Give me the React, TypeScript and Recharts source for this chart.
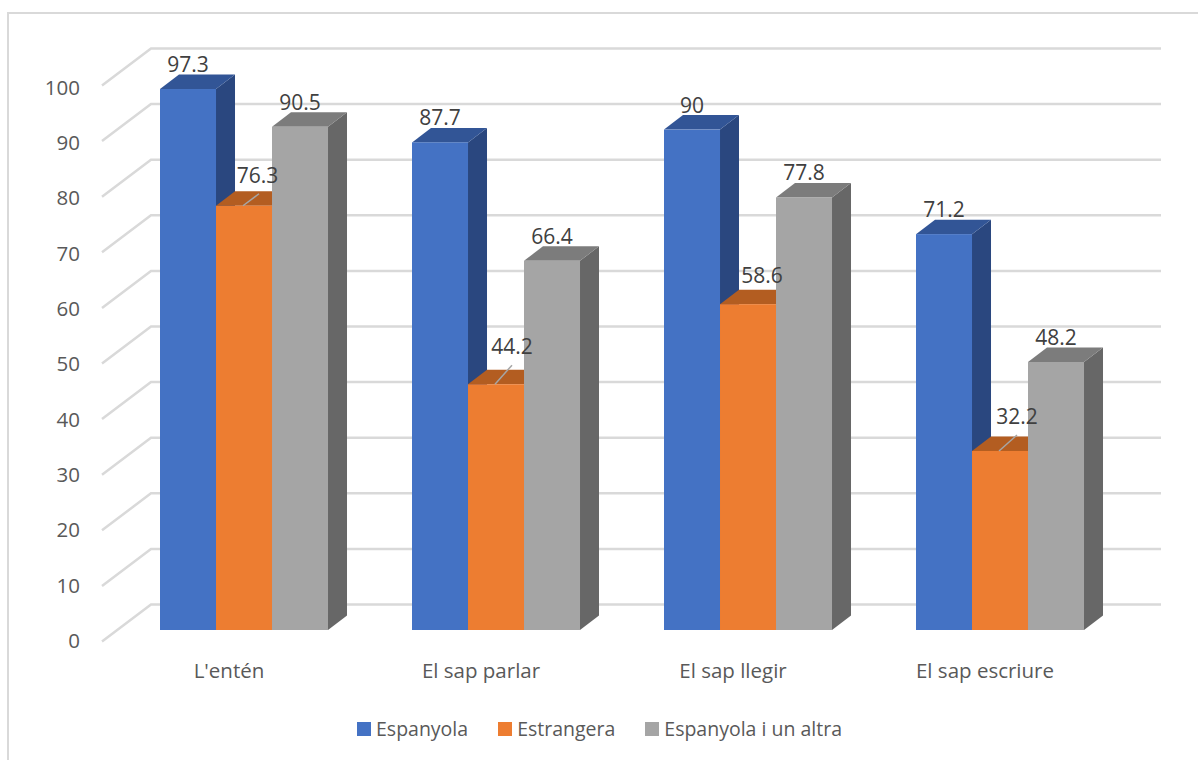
import React from 'react';
import { ComposedChart, Bar, Line, XAxis, YAxis, CartesianGrid, Legend, LabelList } from 'recharts';

const categories = ["L'entén", 'El sap parlar', 'El sap llegir', 'El sap escriure'];
const espanyola = [97.3, 87.7, 90, 71.2];
const estrangera = [76.3, 44.2, 58.6, 32.2];
const espanyolaAltra = [90.5, 66.4, 77.8, 48.2];
const yTicks = [0, 10, 20, 30, 40, 50, 60, 70, 80, 90, 100];

const data = categories.map((name, i) => ({
    name,
    espanyola: espanyola[i],
    estrangera: estrangera[i],
    espanyolaAltra: espanyolaAltra[i],
}));

const FONT = '"Open Sans", sans-serif';
const AXIS_TEXT = '#595959';
const LABEL_TEXT = '#404040';
const GRID = '#d9d9d9';

// extrusion of the boxes, going back and up
const DEPTH_X = 19;
const DEPTH_Y = 14.5;

// the orange labels sit off-centre, some with a small leader line
const orangeLabels = [
    { dx: 13.5, dy: -22.5, leader: [15, -12] },
    { dx: 16, dy: -30, leader: [16, -19] },
    { dx: 14, dy: -21, leader: null },
    { dx: 17, dy: -27, leader: [17, -16] },
];

const box = (top: string, side: string) => (props: any) => {
    const { x, y, width, height, fill } = props;
    const right = x + width;
    const bottom = y + height;
    return (
        <g>
            <polygon
                points={`${right},${y} ${right + DEPTH_X},${y - DEPTH_Y} ${right + DEPTH_X},${bottom - DEPTH_Y} ${right},${bottom}`}
                fill={side}
            />
            <polygon
                points={`${x},${y} ${x + DEPTH_X},${y - DEPTH_Y} ${right + DEPTH_X},${y - DEPTH_Y} ${right},${y}`}
                fill={top}
            />
            <rect x={x} y={y} width={width} height={height} fill={fill} />
        </g>
    );
};

// back wall line plus the diagonal running out towards the labels
const gridLine = (props: any) => {
    const { x1, x2, y1, index } = props;
    return (
        <polyline
            key={index}
            points={`${x1 - 16},${y1 + 11.5} ${x1 + 33},${y1 - 25.5} ${x2 + 35},${y1 - 25.5}`}
            fill="none"
            stroke={GRID}
            strokeWidth={2.5}
        />
    );
};

const YTick = ({ y, payload }: any) => (
    <text x={80} y={y + 18 + payload.value * 0.025} textAnchor="end" fontFamily={FONT} fontSize={20.5} fill={AXIS_TEXT}>
        {payload.value}
    </text>
);

const XTick = ({ x, payload }: any) => (
    <text x={x - 15} y={678} textAnchor="middle" fontFamily={FONT} fontSize={20.5} fill={AXIS_TEXT}>
        {payload.value}
    </text>
);

const orangeLabel = ({ x, y, value, index }: any) => {
    const place = orangeLabels[index];
    return (
        <g key={index}>
            {place.leader && (
                <line x1={x - 1} y1={y} x2={x + place.leader[0]} y2={y + place.leader[1]} stroke="#a6a6a6" strokeWidth={1.5} />
            )}
            <text x={x + place.dx} y={y + place.dy} textAnchor="middle" fontFamily={FONT} fontSize={21} fill={LABEL_TEXT}>
                {value}
            </text>
        </g>
    );
};

const topLabel = ({ x, y, width, value }: any) => (
    <text x={x + width / 2} y={y - 17} textAnchor="middle" fontFamily={FONT} fontSize={21} fill={LABEL_TEXT}>
        {value}
    </text>
);

const legendContent = ({ payload }: any) => (
    <div style={{ display: 'flex', alignItems: 'center', fontFamily: FONT, fontSize: 19.5, color: AXIS_TEXT }}>
        {(payload || [])
            .filter((entry: any) => entry.type !== 'none')
            .map((entry: any) => (
                <div key={entry.value} style={{ display: 'flex', alignItems: 'center', marginRight: 30 }}>
                    <span style={{ width: 14, height: 14, background: entry.color, marginRight: 5 }} />
                    <span>{entry.value}</span>
                </div>
            ))}
    </div>
);

const App: React.FC = () => {
    return (
        <div style={{ position: 'absolute', left: 0, top: 0, width: 1198, height: 760, overflow: 'hidden', background: '#fff' }}>
            <div
                style={{
                    position: 'absolute',
                    left: 7,
                    top: 12,
                    right: 0,
                    bottom: 0,
                    borderTop: `2px solid ${GRID}`,
                    borderLeft: `2px solid ${GRID}`,
                }}
            />
            <ComposedChart
                width={1198}
                height={760}
                data={data}
                barGap={0}
                barCategoryGap="16.67%"
                margin={{ top: 74, right: 72, bottom: 90, left: 78 }}
                style={{ position: 'absolute', left: 0, top: 0 }}
            >
                <CartesianGrid vertical={false} horizontal={gridLine} />
                <XAxis dataKey="name" axisLine={false} tickLine={false} height={40} tick={XTick} interval={0} />
                <YAxis domain={[0, 100]} ticks={yTicks} axisLine={false} tickLine={false} width={40} tick={YTick} interval={0} />
                <Legend
                    layout="horizontal"
                    align="center"
                    verticalAlign="middle"
                    itemSorter={null}
                    content={legendContent}
                    wrapperStyle={{ left: 357, top: 715, width: 800 }}
                />
                <Bar dataKey="espanyola" name="Espanyola" fill="#4472c4" isAnimationActive={false} shape={box('#325596', '#2a477f')}>
                    <LabelList content={topLabel} />
                </Bar>
                <Bar dataKey="estrangera" name="Estrangera" fill="#ed7d31" isAnimationActive={false} shape={box('#b35d21', '#a3541e')} />
                <Bar dataKey="espanyolaAltra" name="Espanyola i un altra" fill="#a5a5a5" isAnimationActive={false} shape={box('#7c7c7c', '#676767')}>
                    <LabelList content={topLabel} />
                </Bar>
                {/* drawn last so the labels stay above the grey boxes */}
                <Line
                    dataKey="estrangera"
                    stroke="none"
                    dot={false}
                    activeDot={false}
                    legendType="none"
                    isAnimationActive={false}
                    label={orangeLabel}
                />
            </ComposedChart>
        </div>
    );
};

export default App;
